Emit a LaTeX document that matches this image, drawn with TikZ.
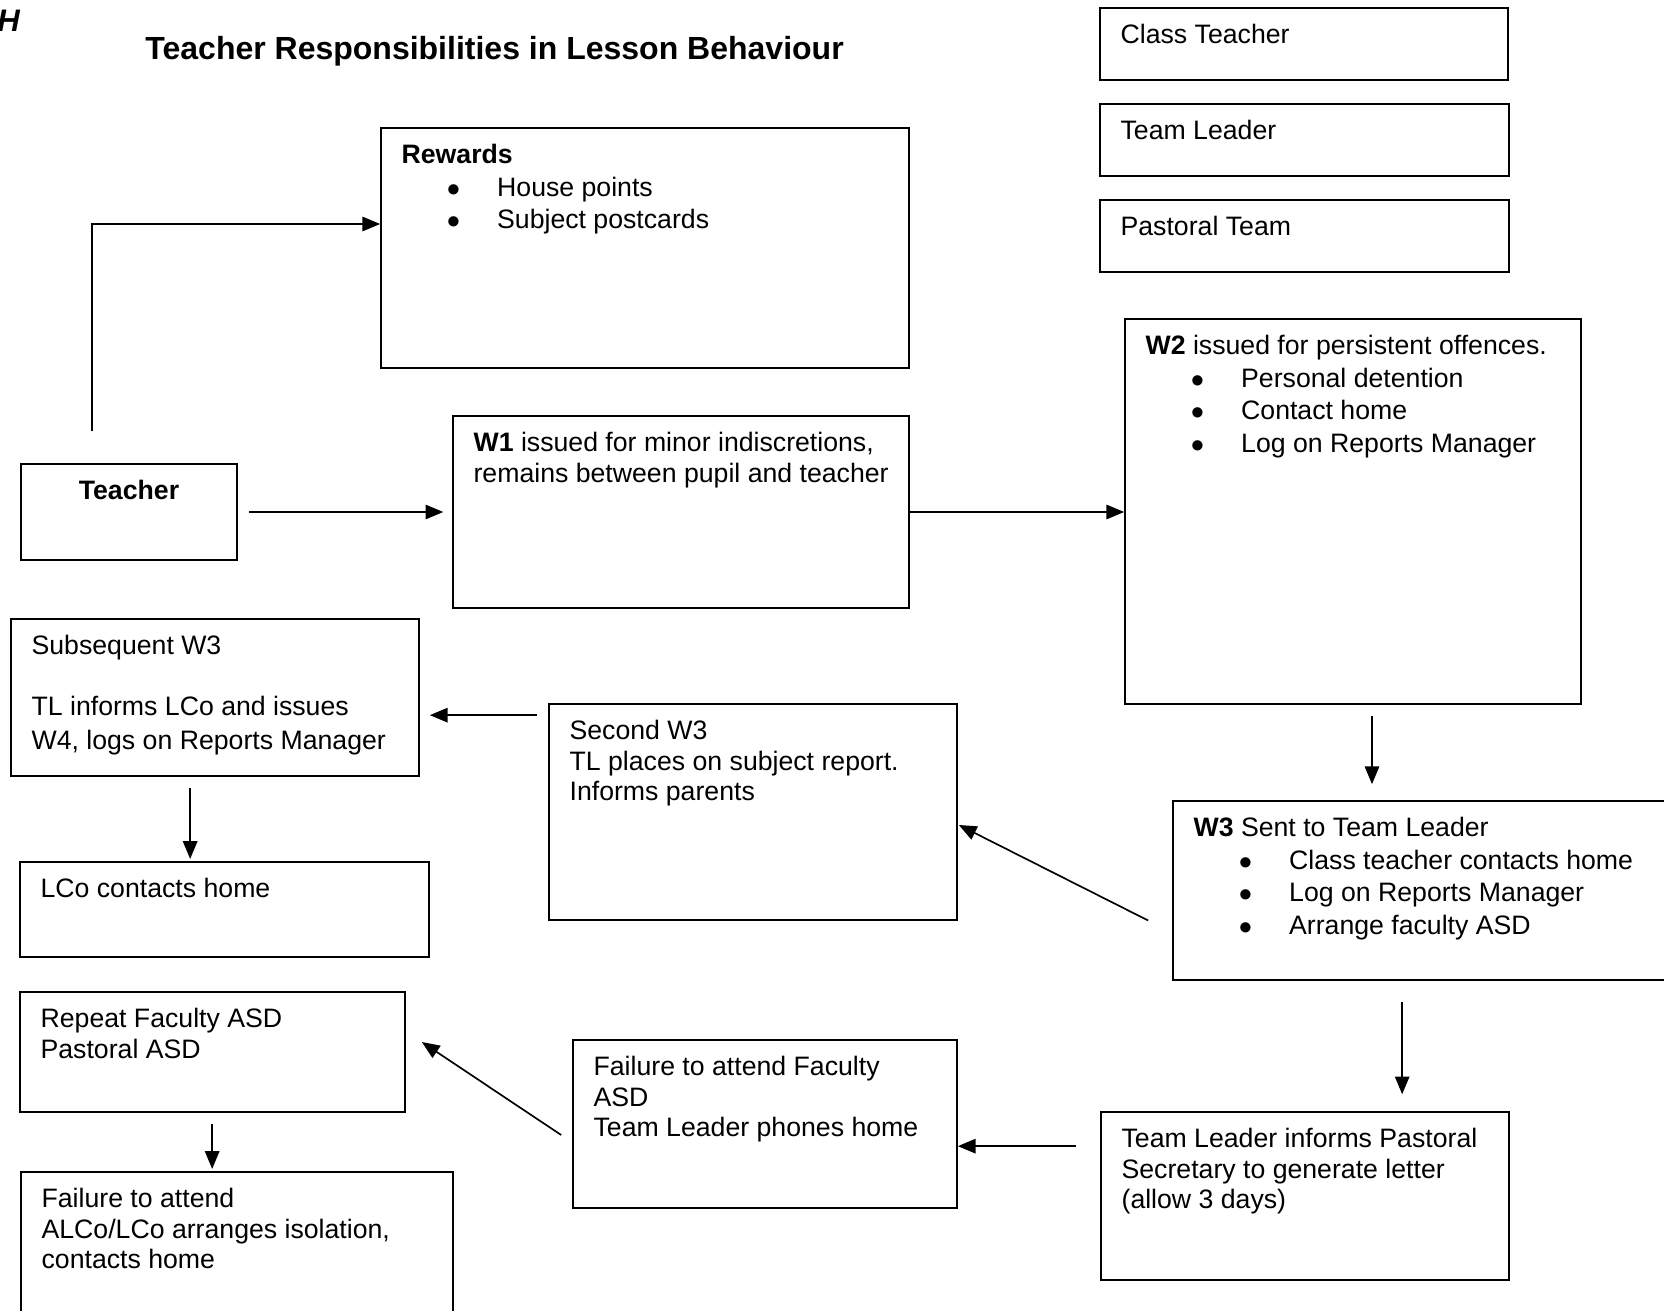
\documentclass[tikz,border=0pt]{standalone}
\usepackage{fontspec}
\setmainfont{Liberation Sans}
\usetikzlibrary{arrows.meta,calc,fit}
\newcommand{\blt}[1]{\hspace*{20.4pt}\makebox[22.6pt][l]{$\bullet$}#1}

\begin{document}
\begin{tikzpicture}[x=0.45pt,y=0.45pt,yscale=-1,xscale=1,
  box/.style={draw, line width=0.75pt, inner sep=0pt},
  txt/.style={anchor=north west, inner sep=0pt, align=left, font=\fontsize{12pt}{13.7pt}\selectfont},
  arr/.style={line width=0.75pt, -{Triangle[length=8pt,width=6.5pt]}}]
%set diagram left start at 0, and has height of 1311
\clip (0,0) rectangle (1664,1311);

% Title
\node [anchor=base west, inner sep=0pt] (hmark) at (-3,32) {\fontsize{14pt}{16pt}\selectfont\bfseries\itshape H};
\node [anchor=base west, inner sep=0pt] (title) at (145,60) {\fontsize{14.4pt}{16pt}\selectfont\bfseries Teacher Responsibilities in Lesson Behaviour};

%Shape: Rectangle (key)
\node [box, fit={(1100,8) (1508,80)}] (classT) {};
\node [box, fit={(1100,104) (1509,176)}] (teamL) {};
\node [box, fit={(1100,200) (1509,272)}] (pastoral) {};
% Text Node
\node [txt] (classTt) at ($(classT.north west)+(21,17)$) {Class Teacher};
\node [txt] (teamLt) at ($(teamL.north west)+(21,17)$) {Team Leader};
\node [txt] (pastoralt) at ($(pastoral.north west)+(21,17)$) {Pastoral Team};

%Shape: Rectangle (top row)
\node [box, fit={(381,128) (909,368)}] (rewards) {};
\node [box, fit={(21,464) (237,560)}] (teacher) {};
\node [box, fit={(453,416) (909,608)}] (w1) {};
\node [box, fit={(1125,319) (1581,704)}] (w2) {};
% Text Node
\node [txt] (rewardst) at ($(rewards.north west)+(21,17)$) {\textbf{Rewards}\\[0.9pt]
  \blt{House points}\\[0.9pt]
  \blt{Subject postcards}};
\node [txt, anchor=north] (teachert) at ($(teacher.north)+(0,17)$) {\textbf{Teacher}};
\node [txt] (w1t) at ($(w1.north west)+(21,17)$) {\textbf{W1} issued for minor indiscretions,\\
  remains between pupil and teacher};
\node [txt] (w2t) at ($(w2.north west)+(21,17)$) {\textbf{W2} issued for persistent offences.\\[0.9pt]
  \blt{Personal detention}\\[0.9pt]
  \blt{Contact home}\\[0.9pt]
  \blt{Log on Reports Manager}};

%Shape: Rectangle (middle row)
\node [box, fit={(11,619) (419,776)}] (subseq) {};
\node [box, fit={(549,704) (957,920)}] (second) {};
\node [box, fit={(1173,801) (1690,980)}] (w3) {};
\node [box, fit={(20,862) (429,957)}] (lco) {};
% Text Node
\node [txt] (subseqt) at ($(subseq.north west)+(21,17)$) {Subsequent W3\\[13.7pt]
  TL informs LCo and issues\\[1.5pt]
  W4, logs on Reports Manager};
\node [txt] (secondt) at ($(second.north west)+(21,17)$) {Second W3\\
  TL places on subject report.\\
  Informs parents};
\node [txt] (w3t) at ($(w3.north west)+(21,17)$) {\textbf{W3} Sent to Team Leader\\[0.9pt]
  \blt{Class teacher contacts home}\\[0.9pt]
  \blt{Log on Reports Manager}\\[0.9pt]
  \blt{Arrange faculty ASD}};
\node [txt] (lcot) at ($(lco.north west)+(21,17)$) {LCo contacts home};

%Shape: Rectangle (bottom row)
\node [box, fit={(20,992) (405,1112)}] (repeat) {};
\node [box, fit={(573,1040) (957,1208)}] (failasd) {};
\node [box, fit={(1101,1112) (1509,1280)}] (tlinf) {};
\node [box, fit={(21,1172) (453,1330)}] (failiso) {};
% Text Node
\node [txt] (repeatt) at ($(repeat.north west)+(21,17)$) {Repeat Faculty ASD\\
  Pastoral ASD};
\node [txt] (failasdt) at ($(failasd.north west)+(21,17)$) {Failure to attend Faculty\\
  ASD\\
  Team Leader phones home};
\node [txt] (tlinft) at ($(tlinf.north west)+(21,17)$) {Team Leader informs Pastoral\\
  Secretary to generate letter\\
  (allow 3 days)};
\node [txt] (failisot) at ($(failiso.north west)+(21,17)$) {Failure to attend\\
  ALCo/LCo arranges isolation,\\
  contacts home};

% free ends of the connectors
\coordinate (tup) at ($(teacher.north west)+(72,-32)$);
\coordinate (w2o) at ($(w2.south)+(19,0)$);
\coordinate (w3s) at ($(w3.west)+(-24,30)$);
\coordinate (s3o) at ($(second.north west)+(-11,12)$);
\coordinate (sqo) at ($(subseq.south west)+(180,0)$);
\coordinate (w3o) at ($(w3.south west)+(230,0)$);
\coordinate (tlo) at ($(tlinf.north west)+(-24,35)$);
\coordinate (fao) at ($(failasd.west)+(-11,11)$);
\coordinate (rpo) at ($(repeat.south west)+(193,0)$);

%Connectors
\draw [arr] (tup) |- ($(rewards.west)+(0,-24)$);
\draw [arr, shorten <=5pt, shorten >=4pt] (teacher.east) -- (teacher.east -| w1.west);
\draw [arr] (w1.east) -- (w1.east -| w2.west);
\draw [arr, shorten <=5pt, shorten >=7.2pt] (w2o) -- (w2o |- w3.north);
\draw [arr] (w3s) -- ($(second.east)+(1,13)$);
\draw [arr, shorten >=4.5pt] (s3o) -- (s3o -| subseq.east);
\draw [arr, shorten <=5pt, shorten >=1pt] (sqo) -- (sqo |- lco.north);
\draw [arr, shorten <=9.5pt, shorten >=7.6pt] (w3o) -- (w3o |- tlinf.north);
\draw [arr] (tlo) -- (tlo -| failasd.east);
\draw [arr] (fao) -- ($(repeat.east)+(16,-10)$);
\draw [arr, shorten <=5pt, shorten >=1pt] (rpo) -- (rpo |- failiso.north);

\end{tikzpicture}
\end{document}
